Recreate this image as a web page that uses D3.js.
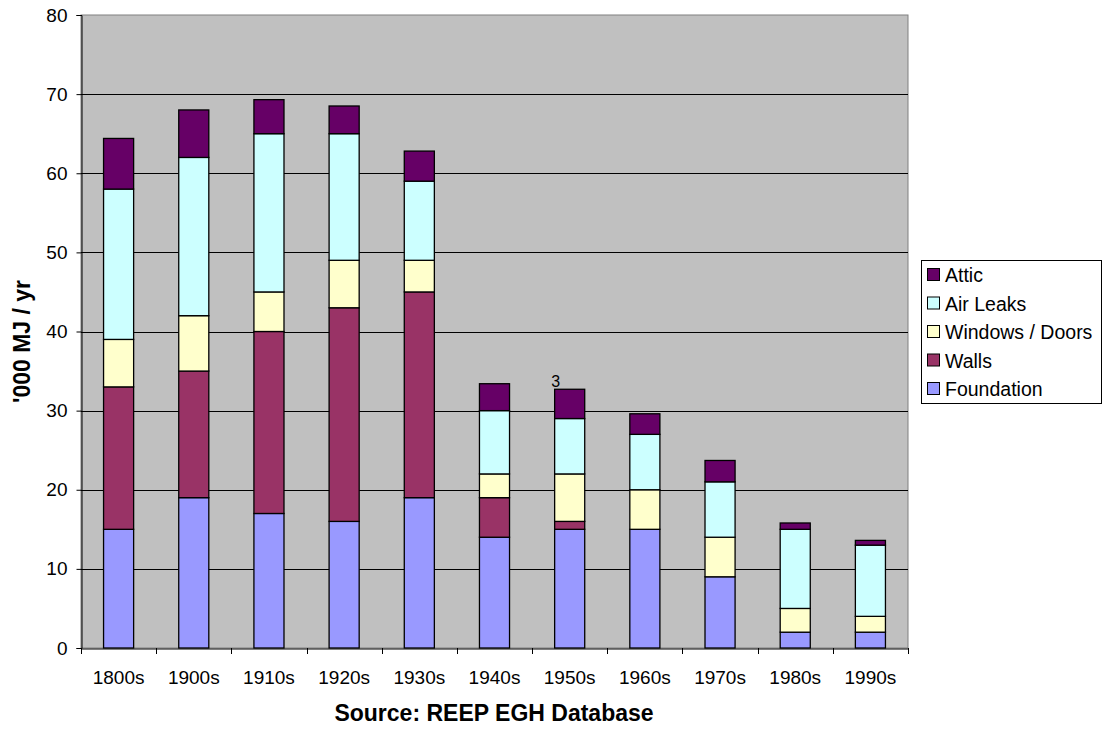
<!DOCTYPE html>
<html><head><meta charset="utf-8">
<script src="https://cdn.jsdelivr.net/npm/d3@7"></script>
<style>body{margin:0;background:#fff;} text{font-family:"Liberation Sans",Arial,sans-serif;}</style>
</head><body>
<svg id="c" width="1103" height="729"></svg>
<script>
const categories = ["1800s","1900s","1910s","1920s","1930s","1940s","1950s","1960s","1970s","1980s","1990s"];
const seriesNames = ["Foundation","Walls","Windows / Doors","Air Leaks","Attic"];
const foundation = [15,19,17,16,19,14,15,15,9,2,2];
const walls      = [18,16,23,27,26,5,1,0,0,0,0];
const windows    = [6,7,5,6,4,3,6,5,5,3,2];
const airLeaks   = [19,20,20,16,10,8,7,7,7,10,9];
const attic      = [6.4,6,4.3,3.5,3.8,3.4,3.7,2.6,2.7,0.8,0.6];
const colors = ["#9999ff","#993366","#ffffcc","#ccffff","#660066"];
const yTicks = [0,10,20,30,40,50,60,70,80];
const strayLabel = {category:"1950s", text:"3"};

const seriesVals = [foundation, walls, windows, airLeaks, attic];
const rows = categories.map((c,i)=>{const r={cat:c}; seriesNames.forEach((s,j)=>r[s]=seriesVals[j][i]); return r;});
const stack = d3.stack().keys(seriesNames)(rows);

const svg = d3.select("#c");
const L=81, R=908, T=15, B=648;
const x = d3.scaleBand().domain(categories).range([L,R]).paddingInner(0.6).paddingOuter(0.3);
const xb = d3.scaleBand().domain(categories).range([L,R]);
const y = d3.scaleLinear().domain([0,80]).range([B,T]);

svg.append("rect").attr("x",L).attr("y",T).attr("width",R-L).attr("height",B-T).attr("fill","#c0c0c0").attr("stroke","#808080").attr("stroke-width",1);

svg.append("g").selectAll("line").data(yTicks.filter(t=>t>0&&t<80)).join("line")
  .attr("x1",L).attr("x2",R).attr("y1",d=>Math.round(y(d))+0.5).attr("y2",d=>Math.round(y(d))+0.5)
  .attr("stroke","#000").attr("stroke-width",1);

stack.forEach((layer,j)=>{
  svg.append("g").selectAll("rect").data(layer).join("rect")
    .attr("x",d=>x(d.data.cat)).attr("width",x.bandwidth())
    .attr("y",d=>y(d[1])).attr("height",d=>Math.max(0,y(d[0])-y(d[1])))
    .attr("fill",colors[j]).attr("stroke","#000").attr("stroke-width",1.3)
    .style("display",d=>d[1]-d[0]>0?null:"none");
});

// y axis
const ya = svg.append("g").attr("transform",`translate(${L+0.5},0)`)
  .call(d3.axisLeft(y).tickValues(yTicks).tickSize(5).tickPadding(9));
ya.select(".domain").attr("stroke","#000");
ya.selectAll("text").attr("font-size",19).attr("fill","#000").style("font-family","Liberation Sans, Arial");

// x axis
const xa = svg.append("g").attr("transform",`translate(0,${B+0.5})`)
  .call(d3.axisBottom(xb).tickSize(0).tickPadding(0));
xa.select(".domain").attr("stroke","#000");
xa.selectAll("text").attr("font-size",19).attr("fill","#000").attr("dy",null).attr("y",35.5).style("font-family","Liberation Sans, Arial");
svg.append("g").selectAll("line").data(d3.range(categories.length+1)).join("line")
  .attr("x1",i=>Math.round(L+i*xb.step())+0.5).attr("x2",i=>Math.round(L+i*xb.step())+0.5)
  .attr("y1",B).attr("y2",B+6).attr("stroke","#000");

// stray label
const si = categories.indexOf(strayLabel.category);
svg.append("text").attr("x",x(strayLabel.category)+x.bandwidth()/2-14).attr("y",y(d3.sum(seriesVals,s=>s[si]))-2)
  .attr("text-anchor","middle").attr("font-size",16).attr("fill","#000").text(strayLabel.text);

// titles
svg.append("text").attr("transform",`translate(30,341.5) rotate(-90)`).attr("text-anchor","middle")
  .attr("font-size",23).attr("font-weight","bold").text("'000 MJ / yr");
svg.append("text").attr("x",494).attr("y",721).attr("text-anchor","middle")
  .attr("font-size",23).attr("font-weight","bold").text("Source: REEP EGH Database");

// legend
const lg = svg.append("g");
lg.append("rect").attr("x",921.5).attr("y",260.5).attr("width",180).attr("height",143).attr("fill","#fff").attr("stroke","#000");
const legOrder = seriesNames.map((s,j)=>({s,c:colors[j]})).reverse();
legOrder.forEach((d,i)=>{
  const cy = 275 + i*28.5;
  lg.append("rect").attr("x",927.5).attr("y",cy-6.5).attr("width",12).attr("height",12).attr("fill",d.c).attr("stroke","#000");
  lg.append("text").attr("x",945).attr("y",cy+7).attr("font-size",19.5).text(d.s);
});
</script>
</body></html>
